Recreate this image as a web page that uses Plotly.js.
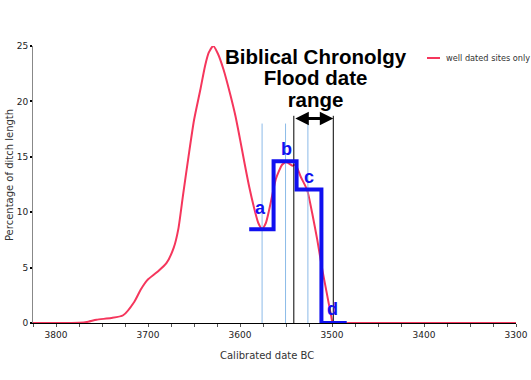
<!DOCTYPE html>
<html>
<head>
<meta charset="utf-8">
<script src="https://cdn.plot.ly/plotly-3.0.1.min.js"></script>
<style>html,body{margin:0;padding:0;background:#fff;}#chart{width:531px;height:380px;}</style>
</head>
<body>
<div id="chart"></div>
<script>
// Red curve: "well dated sites only"
const curveYears = [3825, 3790, 3775, 3765, 3756, 3740, 3727, 3715, 3708, 3701, 3690, 3680, 3672, 3667, 3662, 3656, 3650, 3643, 3638, 3634, 3629, 3624, 3618, 3610.5, 3605, 3600, 3595, 3590, 3585, 3580, 3576, 3572, 3569, 3565, 3561, 3554, 3549, 3543, 3539.7, 3534, 3527, 3521.5, 3516, 3510.5, 3505, 3500.8, 3499, 3480, 3400, 3300];
const curveValues = [0, 0, 0.02, 0.12, 0.3, 0.45, 0.7, 1.9, 3.0, 3.85, 4.6, 5.4, 6.8, 8.5, 11.5, 15, 18.3, 21.1, 23.2, 24.4, 25, 24.3, 22.9, 20.6, 18.7, 16.6, 14.4, 12.3, 10.5, 9.0, 8.5, 9.0, 9.95, 11.5, 13.0, 14.3, 14.5, 14.2, 14.3, 13.2, 12.0, 9.9, 7.5, 4.8, 2.4, 0.6, 0, 0, 0, 0];

// Blue step line (a, b, c, d)
const stepYears = [3590, 3563.5, 3538.5, 3511.5, 3484];
const stepValues = [8.45, 14.6, 12.05, 0, 0];
const stepLabels = ['a', 'b', 'c', 'd'];
const stepLabelYears = [3577.7, 3549.3, 3525.4, 3500];
const stepLabelValues = [10.36, 15.7, 13.2, 1.3];

// Thin light-blue marker lines
const markerYears = [3576, 3550.5, 3526.2];
const markerTop = 18;

// Flood date range (black lines + arrow)
const floodYears = [3541.5, 3498.6];
const floodTop = 18.7;
const arrowLevel = 18.45;

const titleLines = ['Biblical Chronolgy', 'Flood date', 'range'];
const titleYear = 3517.4;
const titleValue = 22.1;

const xTickVals = [3800, 3700, 3600, 3500, 3400, 3300];
const yTickVals = [0, 5, 10, 15, 20, 25];

const traces = [];
traces.push({
  x: curveYears, y: curveValues, type: 'scatter', mode: 'lines',
  line: {color: '#f5365c', width: 2, shape: 'spline', smoothing: 0.6},
  name: 'well dated sites only', showlegend: false, hoverinfo: 'skip'
});
markerYears.forEach(function (yr) {
  traces.push({x: [yr, yr], y: [0, markerTop], type: 'scatter', mode: 'lines',
    line: {color: '#8cbbe8', width: 1}, showlegend: false, hoverinfo: 'skip'});
});
floodYears.forEach(function (yr) {
  traces.push({x: [yr, yr], y: [0, floodTop], type: 'scatter', mode: 'lines',
    line: {color: '#000000', width: 1}, showlegend: false, hoverinfo: 'skip'});
});
traces.push({
  x: stepYears, y: stepValues, type: 'scatter', mode: 'lines',
  line: {color: '#1010f0', width: 4, shape: 'hv'}, showlegend: false, hoverinfo: 'skip'
});

const annotations = [];
annotations.push({x: titleYear, y: titleValue, xref: 'x', yref: 'y',
  text: titleLines.map(function (t) { return '<span style="font-size:20.5px"><b>' + t + '</b></span>'; }).join('<br>'),
  showarrow: false, xanchor: 'center', yanchor: 'middle', align: 'center',
  font: {family: 'Liberation Sans, Arial, sans-serif', size: 16.5, color: '#000'}});
stepLabels.forEach(function (t, i) {
  annotations.push({x: stepLabelYears[i], y: stepLabelValues[i], xref: 'x', yref: 'y', text: '<b>' + t + '</b>',
    showarrow: false, xanchor: 'center', yanchor: 'middle',
    font: {family: 'Liberation Sans, Arial, sans-serif', size: 18, color: '#1010f0'}});
});
annotations.push({x: floodYears[1], y: arrowLevel, ax: floodYears[0], ay: arrowLevel,
  xref: 'x', yref: 'y', axref: 'x', ayref: 'y', text: '', showarrow: true,
  arrowhead: 2, startarrowhead: 2, arrowside: 'end+start', arrowsize: 0.9, startarrowsize: 0.9, arrowwidth: 3, arrowcolor: '#000'});
// legend text
annotations.push({x: 0.851, y: 0.9567, xref: 'paper', yref: 'paper', text: 'well dated sites only',
  showarrow: false, xanchor: 'left', yanchor: 'middle',
  font: {family: 'DejaVu Sans, Verdana, sans-serif', size: 8.2, color: '#333'}});
// axis titles
annotations.push({x: -0.0497, y: 0.534, xref: 'paper', yref: 'paper', text: 'Percentage of ditch length',
  showarrow: false, textangle: -90, xanchor: 'center', yanchor: 'middle',
  font: {family: 'DejaVu Sans, Verdana, sans-serif', size: 10, color: '#333'}});
annotations.push({x: 0.4855, y: -0.116, xref: 'paper', yref: 'paper', text: 'Calibrated date BC',
  showarrow: false, xanchor: 'center', yanchor: 'middle',
  font: {family: 'DejaVu Sans, Verdana, sans-serif', size: 10, color: '#333'}});

const layout = {
  width: 531, height: 380,
  margin: {l: 33, r: 15, t: 46, b: 57},
  paper_bgcolor: '#fff', plot_bgcolor: '#fff',
  showlegend: false,
  font: {family: 'DejaVu Sans, Verdana, sans-serif', size: 9, color: '#222'},
  xaxis: {range: [3825, 3300], tickvals: xTickVals, ticks: 'outside', ticklen: 3, tickcolor: '#555',
    showgrid: false, zeroline: false, showline: true, linecolor: '#000', linewidth: 1,
    minor: {dtick: 25, ticks: 'outside', ticklen: 3, tickcolor: '#555'},
    tickfont: {size: 9, color: '#222'}},
  yaxis: {range: [0, 25], tickvals: yTickVals, ticks: 'outside', ticklen: 2, tickwidth: 2, tickcolor: '#000',
    showgrid: false, zeroline: false, showline: true, linecolor: '#888', linewidth: 1,
    tickfont: {size: 9, color: '#222'}},
  shapes: [
    {type: 'line', xref: 'paper', yref: 'paper', x0: 0.8157, x1: 0.8427, y0: 0.9567, y1: 0.9567,
      line: {color: '#f5365c', width: 2}}
  ],
  annotations: annotations
};

Plotly.newPlot('chart', traces, layout, {staticPlot: true, displayModeBar: false});
</script>
</body>
</html>
